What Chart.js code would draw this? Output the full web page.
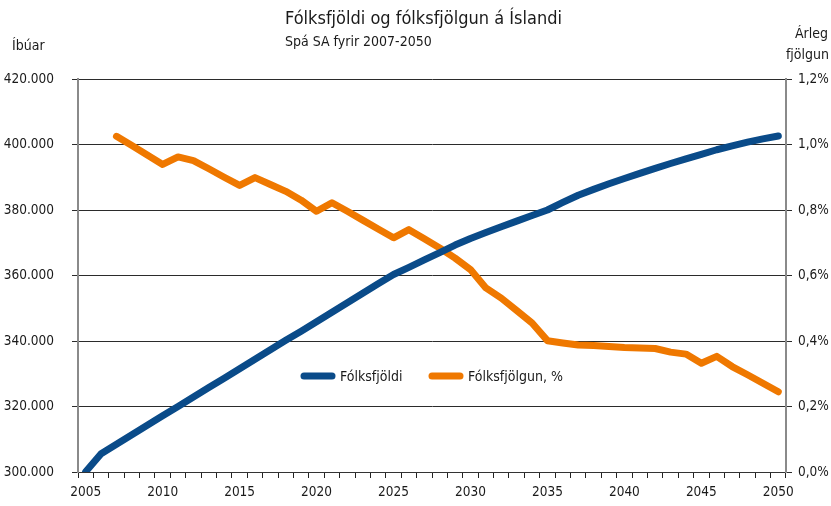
<!DOCTYPE html>
<html>
<head>
<meta charset="utf-8">
<script src="https://cdn.jsdelivr.net/npm/chart.js@4/dist/chart.umd.min.js"></script>
<style>
  html, body { margin: 0; padding: 0; background: #fff; }
  #wrap { width: 831px; height: 506px; position: relative; }
</style>
</head>
<body>
<div id="wrap"><canvas id="chart"></canvas></div>
<script>
const FONT = "'Liberation Sans Narrow', 'DejaVu Sans Condensed', 'Roboto Condensed', 'Liberation Sans', sans-serif";

// Years on the category axis
const years = [];
for (let y = 2005; y <= 2050; y++) years.push(String(y));

// Fólksfjöldi (number of inhabitants), left axis
const population = [
  300100, 305600, 308500, 311400, 314300, 317200, 320000, 322900, 325800, 328600,
  331500, 334400, 337300, 340200, 343000, 345900, 348800, 351700, 354600, 357500,
  360300, 362500, 364800, 367000, 369300, 371300, 373100, 374900, 376600, 378300,
  380000, 382300, 384500, 386300, 388000, 389600, 391200, 392700, 394200, 395600,
  397000, 398400, 399600, 400700, 401700, 402600
];

// Fólksfjölgun (annual growth, %), right axis — starts 2007
const growth = [
  null, null, 1.025, 0.997, 0.968, 0.939, 0.962, 0.951, 0.926, 0.900,
  0.875, 0.899, 0.878, 0.857, 0.830, 0.796, 0.822, 0.796, 0.769, 0.742,
  0.715, 0.740, 0.712, 0.684, 0.653, 0.618, 0.562, 0.531, 0.493, 0.455,
  0.401, 0.394, 0.388, 0.386, 0.383, 0.380, 0.379, 0.377, 0.366, 0.360,
  0.332, 0.353, 0.322, 0.297, 0.271, 0.245
];

const seriesNames = ["Fólksfjöldi", "Fólksfjölgun, %"];
const seriesColors = ["#0a4b89", "#ef7800"];

// Texts drawn around the chart
const titleText = "Fólksfjöldi og fólksfjölgun á Íslandi";
const subtitleText = "Spá SA fyrir 2007-2050";
const leftAxisTitle = "Íbúar";
const rightAxisTitle = ["Árleg", "fjölgun"];

const thousands = (v) => String(Math.round(v)).replace(/\B(?=(\d{3})+(?!\d))/g, ".");

// Title, axis titles and legend
const decorations = {
  id: "decorations",
  afterDraw(chart) {
    const ctx = chart.ctx;
    ctx.save();
    ctx.fillStyle = "#1a1a1a";
    ctx.textBaseline = "middle";
    ctx.textAlign = "left";
    ctx.font = "18px " + FONT;
    ctx.fillText(titleText, 285, 19);
    ctx.font = "14px " + FONT;
    ctx.fillText(subtitleText, 285, 42);
    ctx.fillText(leftAxisTitle, 12, 46);
    ctx.textAlign = "right";
    ctx.fillText(rightAxisTitle[0], 828, 34);
    ctx.fillText(rightAxisTitle[1], 829, 55);

    // legend
    const items = [
      { x: 304, color: seriesColors[0], text: seriesNames[0] },
      { x: 432, color: seriesColors[1], text: seriesNames[1] },
    ];
    const ly = 376;
    ctx.textAlign = "left";
    ctx.font = "14px " + FONT;
    items.forEach((it) => {
      ctx.strokeStyle = it.color;
      ctx.lineWidth = 7;
      ctx.lineCap = "round";
      ctx.beginPath();
      ctx.moveTo(it.x, ly);
      ctx.lineTo(it.x + 28, ly);
      ctx.stroke();
      ctx.fillStyle = "#1a1a1a";
      ctx.fillText(it.text, it.x + 36, ly + 1);
    });
    ctx.restore();
  },
};

new Chart(document.getElementById("chart"), {
  type: "line",
  plugins: [decorations],
  data: {
    labels: years,
    datasets: [
      {
        label: seriesNames[0],
        data: population,
        yAxisID: "y",
        borderColor: seriesColors[0],
        borderWidth: 7,
        borderCapStyle: "round",
        borderJoinStyle: "round",
        pointRadius: 0,
        tension: 0,
      },
      {
        label: seriesNames[1],
        data: growth,
        yAxisID: "y1",
        borderColor: seriesColors[1],
        borderWidth: 7,
        borderCapStyle: "round",
        borderJoinStyle: "round",
        pointRadius: 0,
        tension: 0,
      },
    ],
  },
  options: {
    responsive: true,
    maintainAspectRatio: false,
    animation: false,
    layout: { padding: { top: 79, left: 0, right: 0, bottom: 0 } },
    plugins: {
      legend: { display: false },
      tooltip: { enabled: false },
    },
    scales: {
      x: {
        type: "category",
        offset: true,
        grid: {
          offset: true,
          drawOnChartArea: false,
          color: "#222",
          tickLength: 6,
        },
        border: { color: "#333", width: 1 },
        ticks: {
          autoSkip: false,
          maxRotation: 0,
          padding: 6,
          color: "#1a1a1a",
          font: { family: FONT, size: 13.5 },
          callback: function (value, index) {
            const y = Number(this.getLabelForValue(value));
            return y % 5 === 0 ? String(y) : "";
          },
        },
        afterFit: (s) => { s.height = 34; },
      },
      y: {
        position: "left",
        min: 300000,
        max: 420000,
        grid: { color: "#2b2b2b", lineWidth: 1, tickLength: 6 },
        border: { color: "#8a8a8a", width: 2 },
        ticks: {
          stepSize: 20000,
          padding: 18,
          color: "#1a1a1a",
          font: { family: FONT, size: 13.5 },
          callback: (v) => thousands(v),
        },
        afterFit: (s) => { s.width = 78; },
      },
      y1: {
        position: "right",
        min: 0,
        max: 1.2,
        grid: { drawOnChartArea: false, color: "#2b2b2b", tickLength: 6 },
        border: { color: "#8a8a8a", width: 2 },
        ticks: {
          stepSize: 0.2,
          padding: 6,
          color: "#1a1a1a",
          font: { family: FONT, size: 13.5 },
          callback: (v) => v.toFixed(1).replace(".", ",") + "%",
        },
        afterFit: (s) => { s.width = 45; },
      },
    },
  },
});
</script>
</body>
</html>
